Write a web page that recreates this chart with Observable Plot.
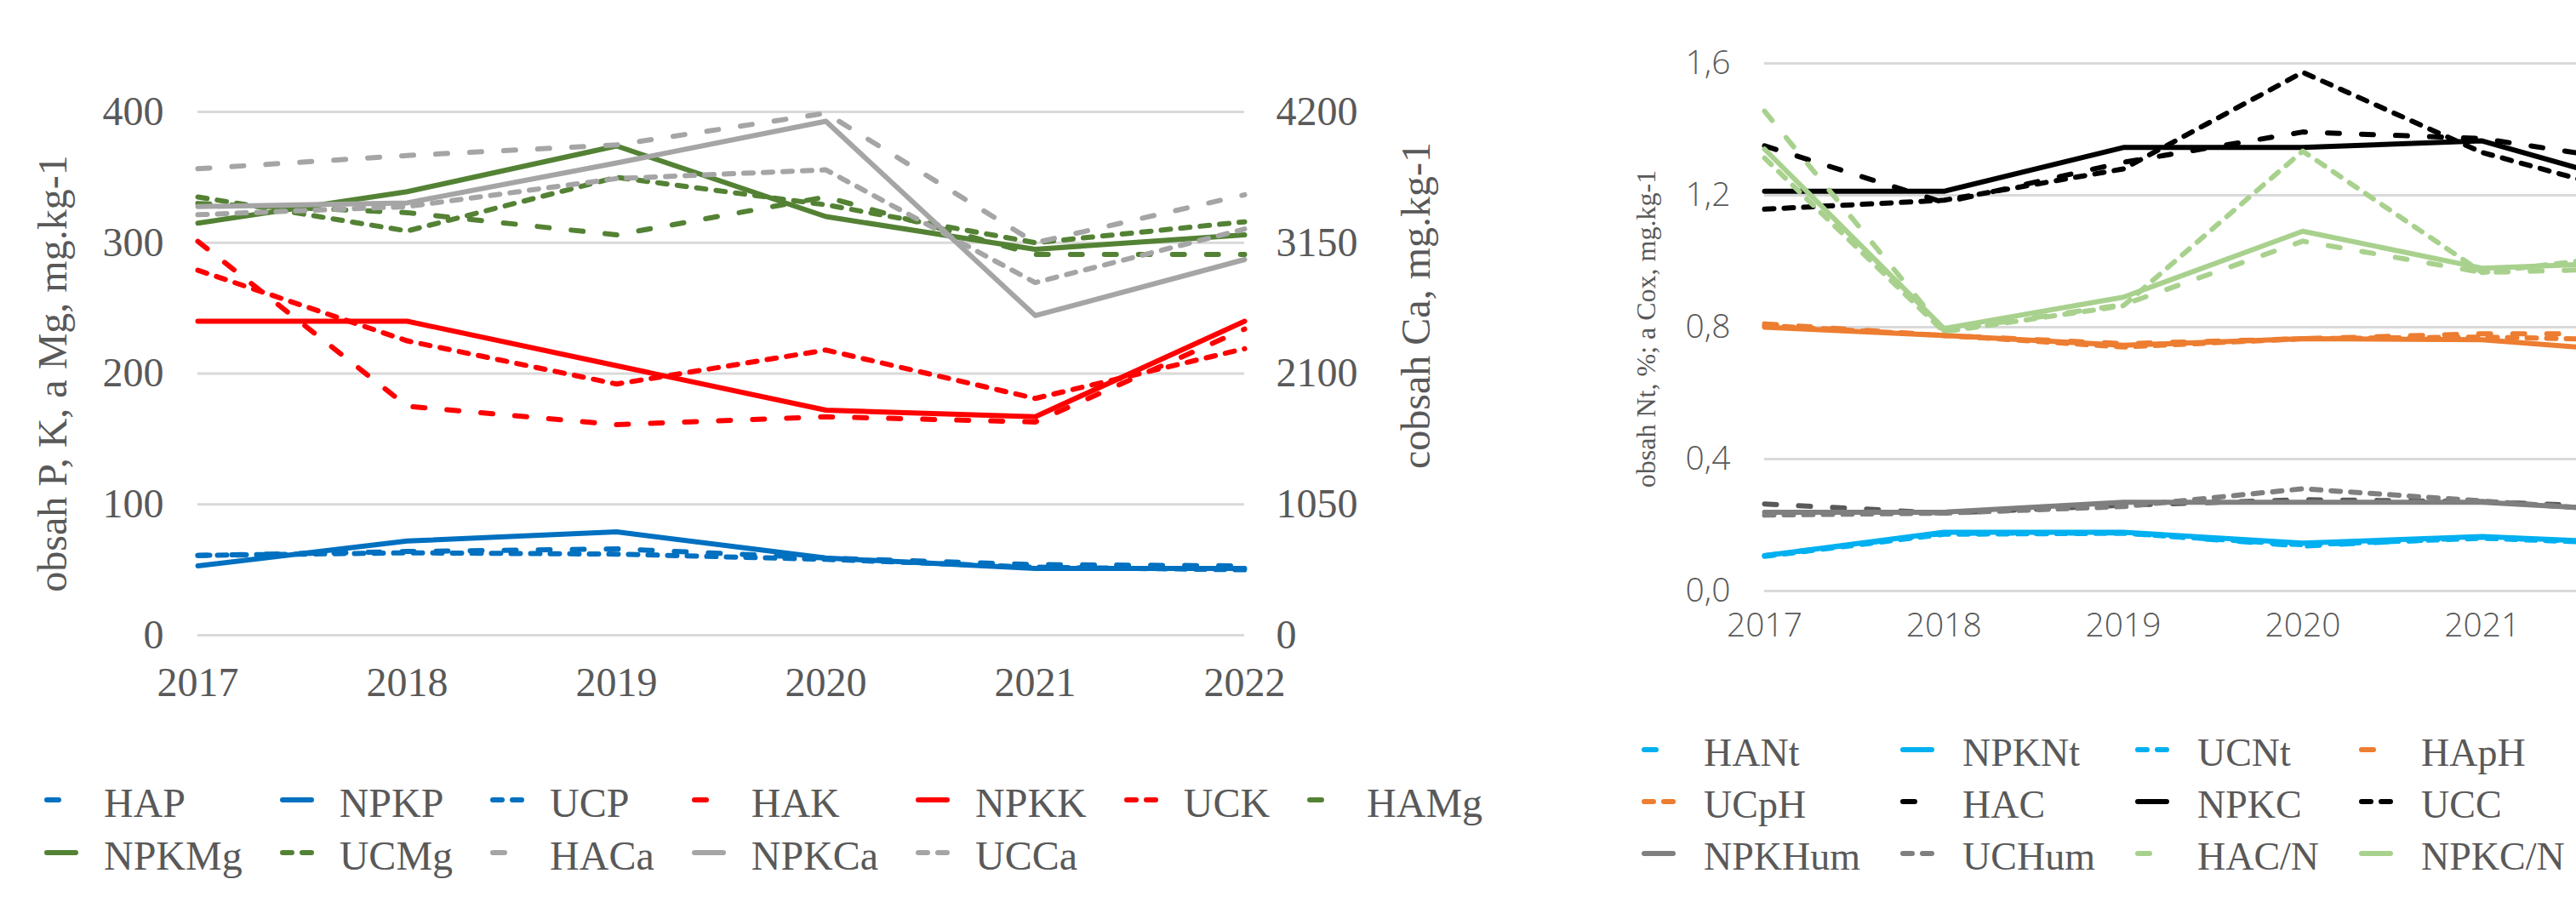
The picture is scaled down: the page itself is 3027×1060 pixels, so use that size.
<!DOCTYPE html>
<html><head><meta charset="utf-8">
<script src="https://cdn.jsdelivr.net/npm/d3@7"></script>
<script src="https://cdn.jsdelivr.net/npm/@observablehq/plot@0.6"></script>
<style>
html,body{margin:0;padding:0;background:#fff;}
body{width:3027px;height:1060px;overflow:hidden;position:relative;}
#left{position:absolute;left:0;top:0;width:1740px;}
#right{position:absolute;left:1880px;top:0;width:1300px;}
#left svg,#right svg{max-width:none !important;}
.legend{position:absolute;display:grid;color:#595959;font-family:"Liberation Serif","Times New Roman",serif;}
.legend .item{display:flex;align-items:center;white-space:nowrap;}
.legend .item svg{flex:none;transform:translateY(-4px);}
#legL{left:52px;top:913px;grid-template-columns:repeat(7,max-content);column-gap:44px;grid-auto-rows:62px;font-size:48px;line-height:62px;}
#legL .item svg{margin-right:30px;}
#legR{left:1929px;top:854px;grid-template-columns:repeat(5,max-content);column-gap:47px;grid-auto-rows:61px;font-size:46px;line-height:61px;}
#legR .item svg{margin-right:33px;}
</style></head><body>
<div id="left"></div><div id="right"></div>
<div id="legL" class="legend"></div><div id="legR" class="legend"></div>
<script>
// ---------- data ----------
const years = [2017, 2018, 2019, 2020, 2021, 2022];

// left chart: P, K, Mg in mg.kg-1 (left axis), Ca in mg.kg-1 (right axis)
const HAP   = [61, 64, 66, 59, 54, 53];
const NPKP  = [53, 72, 79, 59, 51, 51];
const UCP   = [61, 63, 62, 58, 52, 50];
const HAK   = [301, 175, 161, 167, 163, 234];
const NPKK  = [240, 240, 206, 172, 167, 240];
const UCK   = [279, 225, 192, 218, 181, 219];
const HAMg  = [330, 323, 306, 335, 291, 291];
const NPKMg = [315, 339, 374, 320, 295, 306];
const UCMg  = [335, 309, 350, 329, 300, 316];
const HACa  = [3744, 3850, 3935, 4190, 3150, 3535];
const NPKCa = [3440, 3470, 3790, 4125, 2565, 3015];
const UCCa  = [3375, 3440, 3665, 3735, 2830, 3260];

const leftTicks = [0, 100, 200, 300, 400];
const caTicks = [0, 1050, 2100, 3150, 4200];
const leftNames = ["HAP","NPKP","UCP","HAK","NPKK","UCK","HAMg","NPKMg","UCMg","HACa","NPKCa","UCCa"];
const leftValues = [HAP, NPKP, UCP, HAK, NPKK, UCK, HAMg, NPKMg, UCMg, HACa, NPKCa, UCCa];

// right chart: Nt %, pH, Cox, humus, C/N
const HANt   = [0.107, 0.175, 0.176, 0.136, 0.163, 0.140];
const NPKNt  = [0.107, 0.178, 0.178, 0.145, 0.165, 0.142];
const UCNt   = [0.105, 0.172, 0.175, 0.140, 0.160, 0.140];
const HApH   = [0.810, 0.775, 0.750, 0.765, 0.780, 0.780];
const NPKpH  = [0.800, 0.775, 0.745, 0.765, 0.762, 0.720];
const UCpH   = [0.805, 0.775, 0.740, 0.765, 0.770, 0.760];
const HAC    = [1.350, 1.178, 1.300, 1.392, 1.372, 1.290];
const NPKC   = [1.212, 1.212, 1.345, 1.345, 1.365, 1.210];
const UCC    = [1.158, 1.185, 1.280, 1.573, 1.330, 1.180];
const HAHum  = [0.264, 0.236, 0.260, 0.277, 0.271, 0.250];
const NPKHum = [0.239, 0.239, 0.269, 0.269, 0.269, 0.240];
const UCHum  = [0.230, 0.236, 0.256, 0.310, 0.273, 0.235];
const HACN   = [1.455, 0.790, 0.868, 1.061, 0.966, 0.980];
const NPKCN  = [1.340, 0.796, 0.891, 1.091, 0.979, 1.000];
const UCCN   = [1.313, 0.786, 0.865, 1.334, 0.966, 1.030];

const rightTicks = [0, 0.4, 0.8, 1.2, 1.6];
const rightNames = ["HANt","NPKNt","UCNt","HApH","NPKpH","UCpH","HAC","NPKC","UCC","HAHum","NPKHum","UCHum","HAC/N","NPKC/N","UCC/N"];
const rightValues = [HANt, NPKNt, UCNt, HApH, NPKpH, UCpH, HAC, NPKC, UCC, HAHum, NPKHum, UCHum, HACN, NPKCN, UCCN];

// ---------- styles ----------
const elementColors = {P:"#0070C0", K:"#FF0000", Mg:"#548235", Ca:"#A5A5A5",
  Nt:"#00B0F0", pH:"#ED7D31", C:"#000000", Hum:"#7F7F7F", "C/N":"#A9D18E"};
const colorOverride = {HAHum:"#595959"};
const dashes = {HA:"14,26", NPK:null, UC:"11,12"};
function treatment(n){ return n.startsWith("NPK") ? "NPK" : n.startsWith("HA") ? "HA" : "UC"; }
function colorOf(n){ return colorOverride[n] || elementColors[n.slice(treatment(n).length)]; }
const textColor = "#595959";
const gridColor = "#D9D9D9";

function lineMark(name, vals, scale){
  const rows = years.map((y, i) => ({year: y, value: vals[i] / scale}));
  const o = {x:"year", y:"value", stroke: colorOf(name), strokeWidth: 6,
    strokeLinecap:"round", strokeLinejoin:"round"};
  const d = dashes[treatment(name)];
  if (d) o.strokeDasharray = d;
  return Plot.line(rows, o);
}

// ---------- left chart ----------
const caScale = caTicks[caTicks.length-1] / leftTicks[leftTicks.length-1];
const left = Plot.plot({
  width: 1740, height: 860,
  marginLeft: 232, marginRight: 278, marginTop: 131, marginBottom: 114,
  style: {fontFamily: '"Liberation Serif","Times New Roman",serif', fontSize: "48px", color: textColor, background: "transparent"},
  x: {type: "linear", domain: [2017, 2022]},
  y: {domain: [0, 400]},
  marks: [
    Plot.gridY(leftTicks, {stroke: gridColor, strokeOpacity: 1, strokeWidth: 3}),
    ...leftNames.map((n, i) => lineMark(n, leftValues[i], n.endsWith("Ca") ? caScale : 1)),
    Plot.axisY(leftTicks, {tickSize: 0, tickPadding: 40, label: null, fill: textColor}),
    Plot.axisY(leftTicks, {anchor: "right", tickSize: 0, tickPadding: 37, label: null, fill: textColor,
      tickFormat: (d) => String(caTicks[leftTicks.indexOf(d)])}),
    Plot.axisX(years, {tickSize: 0, tickPadding: 37, label: null, fill: textColor, tickFormat: d3.format("d")}),
    Plot.text(["obsah P, K, a Mg, mg.kg-1"], {text: d => d, frameAnchor: "left", textAnchor: "middle",
      rotate: -90, dx: -170, fill: textColor}),
    Plot.text(["cobsah Ca, mg.kg-1"], {text: d => d, frameAnchor: "right", textAnchor: "middle",
      rotate: -90, dx: 202, dy: -80, fill: textColor})
  ]
});
document.getElementById("left").append(left);

// ---------- right chart ----------
const right = Plot.plot({
  width: 1300, height: 760,
  marginLeft: 193, marginRight: 53, marginTop: 74, marginBottom: 66,
  style: {fontFamily: '"Open Sans",sans-serif', fontWeight: 300, fontSize: "39px", color: textColor, background: "transparent"},
  x: {type: "linear", domain: [2017, 2022]},
  y: {domain: [0, 1.6]},
  marks: [
    Plot.gridY(rightTicks, {stroke: gridColor, strokeOpacity: 1, strokeWidth: 3}),
    ...rightNames.map((n, i) => lineMark(n, rightValues[i], 1)),
    Plot.axisY(rightTicks, {tickSize: 0, tickPadding: 40, label: null, fill: textColor,
      tickFormat: d => d.toFixed(1).replace(".", ",")}),
    Plot.axisX(years, {tickSize: 0, tickPadding: 26, label: null, fill: textColor, tickFormat: d3.format("d")}),
    Plot.text(["obsah Nt, %; a Cox, mg.kg-1"], {text: d => d, frameAnchor: "left", textAnchor: "middle",
      rotate: -90, dx: -139, dy: 2, fill: textColor, fontSize: 32,
      fontFamily: '"Liberation Serif","Times New Roman",serif', fontWeight: 400})
  ]
});
document.getElementById("right").append(right);

// ---------- legends ----------
function buildLegend(id, names){
  const el = document.getElementById(id);
  for (const n of names){
    const item = document.createElement("div");
    item.className = "item";
    const d = dashes[treatment(n)];
    item.innerHTML = `<svg width="40" height="12" viewBox="0 0 40 12"><line x1="3" x2="37" y1="6" y2="6" stroke="${colorOf(n)}" stroke-width="6" stroke-linecap="round"${d ? ` stroke-dasharray="${d}"` : ""}/></svg>`;
    const t = document.createElement("span");
    t.textContent = n;
    item.append(t);
    el.append(item);
  }
}
buildLegend("legL", leftNames);
buildLegend("legR", rightNames);
</script>
</body></html>
